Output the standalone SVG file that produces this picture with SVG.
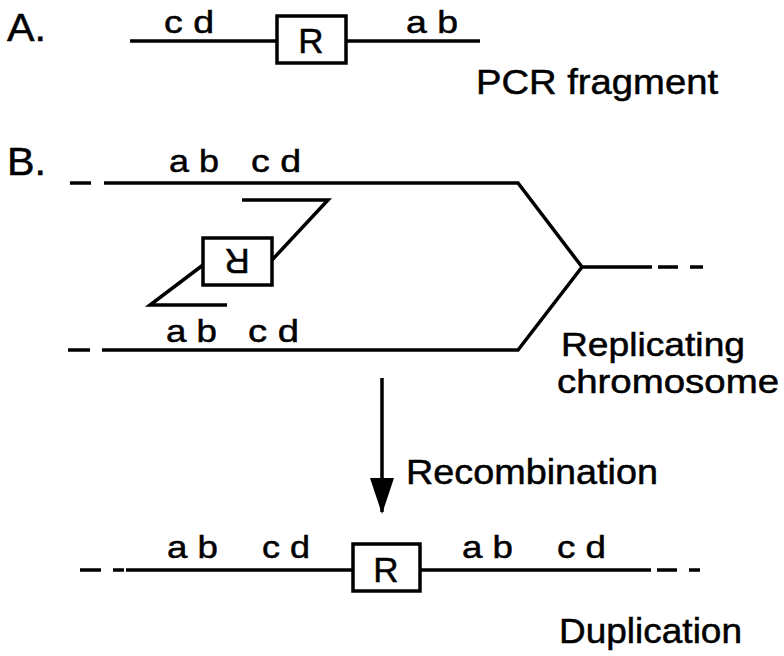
<svg xmlns="http://www.w3.org/2000/svg" width="784" height="656" viewBox="0 0 784 656">
<defs>
<style>
.ln{fill:none;stroke:#000;stroke-width:3.5;stroke-linejoin:miter}
.box{fill:#fff;stroke:#000;stroke-width:3.5}
text{font-family:"Liberation Sans",Arial,Helvetica,sans-serif;fill:#000;stroke:#000;stroke-width:0.5}
.big{font-size:35px}
.mid{font-size:33px}
.lab{font-size:32px}
.hd{font-size:38px}
</style>
<marker id="ah" viewBox="0 0 36 24" refX="34" refY="12" markerWidth="36" markerHeight="24" markerUnits="userSpaceOnUse" orient="auto">
<path d="M0,0 L36,12 L0,24 Z" fill="#000" stroke="none"/>
</marker>
</defs>
<rect width="784" height="656" fill="#fff"/>

<g id="partA">
<text class="hd" x="7" y="41" textLength="39" lengthAdjust="spacingAndGlyphs">A.</text>
<path class="ln" d="M130,41 H277 M346,41 H480"/>
<text class="lab" x="164" y="33" textLength="50" lengthAdjust="spacingAndGlyphs">c d</text>
<text class="lab" x="406" y="33" textLength="52" lengthAdjust="spacingAndGlyphs">a b</text>
<g id="boxA">
<rect class="box" x="277" y="16" width="69" height="47"/>
<text class="big" x="311" y="53" text-anchor="middle">R</text>
</g>
<text class="big" x="476" y="94" textLength="242" lengthAdjust="spacingAndGlyphs">PCR fragment</text>
</g>

<g id="partB">
<text class="hd" x="7" y="175" textLength="39" lengthAdjust="spacingAndGlyphs">B.</text>
<g id="chromosome">
<path class="ln" d="M104,183 H518 L582,267 L518,350 H102 M582,267 H652"/>
<path class="ln" d="M70,183 H91 M68,350 H90 M658,267 H678 M690,267 H703"/>
<text class="lab" x="169" y="172" textLength="50" lengthAdjust="spacingAndGlyphs">a b</text>
<text class="lab" x="251" y="172" textLength="50" lengthAdjust="spacingAndGlyphs">c d</text>
<text class="lab" x="166" y="342" textLength="51" lengthAdjust="spacingAndGlyphs">a b</text>
<text class="lab" x="248" y="342" textLength="51" lengthAdjust="spacingAndGlyphs">c d</text>
</g>
<g id="insert">
<path class="ln" d="M242,200 H328 L272,260 M203,265 L150,305 H227"/>
<rect class="box" x="203" y="238" width="69" height="47"/>
<text class="big" x="237" y="275" text-anchor="middle" transform="rotate(180 237 262)">R</text>
</g>
<text class="mid" x="561" y="356" textLength="184" lengthAdjust="spacingAndGlyphs">Replicating</text>
<text class="mid" x="557" y="393" textLength="222" lengthAdjust="spacingAndGlyphs">chromosome</text>
</g>

<g id="connectors">
<path class="ln" d="M382,378 V512" marker-end="url(#ah)"/>
</g>
<text class="big" x="406" y="484" textLength="252" lengthAdjust="spacingAndGlyphs">Recombination</text>

<g id="duplication">
<path class="ln" d="M126,570 H353 M420,570 H651"/>
<path class="ln" d="M80,570 H101 M113,570 H124 M657,570 H677 M689,570 H700"/>
<text class="lab" x="167" y="558" textLength="51" lengthAdjust="spacingAndGlyphs">a b</text>
<text class="lab" x="262" y="558" textLength="48" lengthAdjust="spacingAndGlyphs">c d</text>
<text class="lab" x="462" y="558" textLength="51" lengthAdjust="spacingAndGlyphs">a b</text>
<text class="lab" x="557" y="558" textLength="49" lengthAdjust="spacingAndGlyphs">c d</text>
<g id="boxDup">
<rect class="box" x="353" y="544" width="67" height="47"/>
<text class="big" x="386" y="582" text-anchor="middle">R</text>
</g>
<text class="big" x="559" y="643" textLength="183" lengthAdjust="spacingAndGlyphs">Duplication</text>
</g>
</svg>
